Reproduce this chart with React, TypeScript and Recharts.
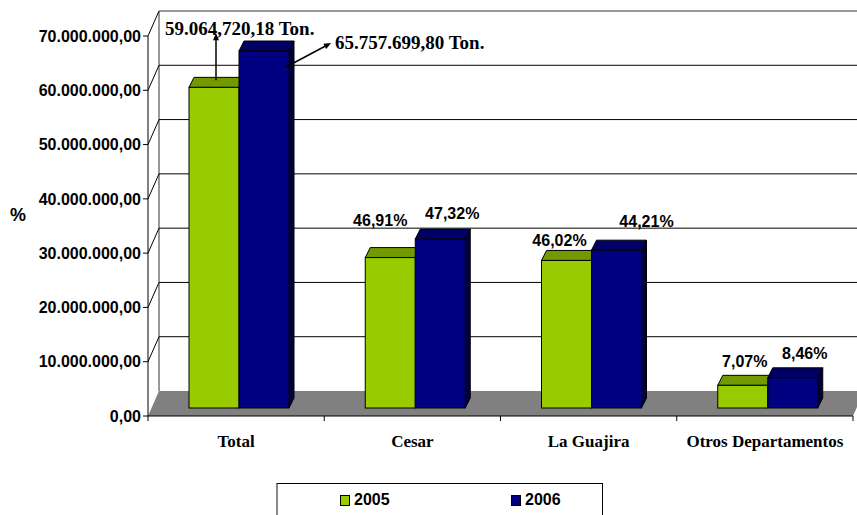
import React from 'react';
import { BarChart, Bar, XAxis, YAxis, CartesianGrid, Legend, LabelList } from 'recharts';

const CATEGORIES = ['Total', 'Cesar', 'La Guajira', 'Otros Departamentos'];
const SERIES = ['2005', '2006'];
const TON_2005 = [59064720.18, 27707260.2, 27181584.2, 4175875.7];
const TON_2006 = [65757699.8, 31116543.5, 29071479.1, 5563101.4];
const LABELS_2005 = ['59.064,720,18 Ton.', '46,91%', '46,02%', '7,07%'];
const LABELS_2006 = ['65.757.699,80 Ton.', '47,32%', '44,21%', '8,46%'];
const Y_TICKS = [0, 10000000, 20000000, 30000000, 40000000, 50000000, 60000000, 70000000];

// hand placed label nudges, from the centre of the bar's front top edge
const NUDGE_2005 = [[0, 0], [-10, -37], [-7, -20], [2, -24]];
const NUDGE_2006 = [[0, 0], [12, -26], [30, -29], [12, -25]];

const GREEN = { front: '#99CC00', top: '#739900', side: '#5c7a00' };
const NAVY = { front: '#000080', top: '#000066', side: '#00003d' };

const W = 857;
const H = 515;
const Y_AXIS_W = 148;
const TICK_SIZE = 5;
const TICK_MARGIN = 2;

// fake 3d offsets
const WALL_DX = 11;
const WALL_DY = -25;
const BAR_DX = 3;
const BAR_DY = -8;
const DEPTH_DX = 5;
const DEPTH_DY = -10;

const SANS = "'Liberation Sans', Arial, sans-serif";
const SERIF = "'Liberation Serif', 'Times New Roman', serif";

const data = CATEGORIES.map((name, i) => ({
  name,
  y2005: TON_2005[i],
  y2006: TON_2006[i],
  l2005: LABELS_2005[i],
  l2006: LABELS_2006[i],
}));

const fmt = (n: number) =>
  String(Math.round(n)).replace(/\B(?=(\d{3})+(?!\d))/g, '.') + ',00';

const bar3d = (c: { front: string; top: string; side: string }) => (props: any) => {
  const { x, y, width, height } = props;
  const fx = x + BAR_DX;
  const fy = y + BAR_DY;
  const top = `${fx},${fy} ${fx + width},${fy} ${fx + width + DEPTH_DX},${fy + DEPTH_DY} ${fx + DEPTH_DX},${fy + DEPTH_DY}`;
  const side = `${fx + width},${fy} ${fx + width + DEPTH_DX},${fy + DEPTH_DY} ${fx + width + DEPTH_DX},${fy + height + DEPTH_DY} ${fx + width},${fy + height}`;
  return (
    <g>
      <polygon points={top} fill={c.top} stroke='#000' strokeWidth={1} strokeLinejoin='round' />
      <polygon points={side} fill={c.side} stroke='#000' strokeWidth={1} strokeLinejoin='round' />
      <rect x={fx} y={fy} width={width} height={height} fill={c.front} stroke='#000' strokeWidth={1} />
    </g>
  );
};

const arrowHead = (x1: number, y1: number, x2: number, y2: number) => {
  const a = Math.atan2(y2 - y1, x2 - x1);
  const len = 7;
  const hw = 3;
  const bx = x2 - len * Math.cos(a);
  const by = y2 - len * Math.sin(a);
  const px = -Math.sin(a) * hw;
  const py = Math.cos(a) * hw;
  return `${x2},${y2} ${bx + px},${by + py} ${bx - px},${by - py}`;
};

const makeLabel = (nudges: number[][], series: number) => (p: any) => {
  const vb = p.viewBox ?? p;
  const { x, y, width } = vb;
  const { index, value } = p;
  const fx = x + BAR_DX;
  const fy = y + BAR_DY;
  if (index === 0) {
    if (series === 0) {
      const cx = fx + width / 2 + 2;
      const y1 = fy - 7;
      const y2 = fy - 54;
      return (
        <g>
          <line x1={cx} y1={y1} x2={cx} y2={y2 + 5} stroke='#000' strokeWidth={1.5} />
          <polygon points={arrowHead(cx, y1, cx, y2)} fill='#000' />
          <text x={cx - 51} y={fy - 52} fontFamily={SERIF} fontWeight='bold' fontSize={19} fill='#000'>
            {value}
          </text>
        </g>
      );
    }
    const x1 = fx + width - 3;
    const y1 = fy + 16;
    const x2 = fx + width + 42;
    const y2 = fy - 8;
    return (
      <g>
        <line x1={x1} y1={y1} x2={x2 - 5} y2={y2 + 2.7} stroke='#000' strokeWidth={1.5} />
        <polygon points={arrowHead(x1, y1, x2, y2)} fill='#000' />
        <text x={fx + width + 46} y={fy - 2} fontFamily={SERIF} fontWeight='bold' fontSize={19} fill='#000'>
          {value}
        </text>
      </g>
    );
  }
  const [nx, ny] = nudges[index];
  return (
    <text
      x={fx + width / 2 + nx}
      y={fy + ny}
      dy='0.36em'
      textAnchor='middle'
      fontFamily={SANS}
      fontWeight='bold'
      fontSize={16}
      fill='#000'
    >
      {value}
    </text>
  );
};

const gridLine = (p: any) => {
  const { x1, x2, y1, index } = p;
  const top = p.y ?? 36;
  const bottom = (p.y ?? 36) + (p.height ?? 380);
  const left = p.x ?? x1;
  const right = (p.x ?? x1) + (p.width ?? x2 - x1);
  const isBottom = Math.abs(y1 - bottom) < 0.5;
  const isTop = Math.abs(y1 - top) < 0.5;
  return (
    <g key={`grid-${index}`}>
      {index === 0 && (
        <g>
          <polygon
            points={`${left},${bottom} ${right},${bottom} ${right + WALL_DX},${bottom + WALL_DY} ${left + WALL_DX},${bottom + WALL_DY}`}
            fill='#808080'
          />
          <line
            x1={left + WALL_DX}
            y1={top + WALL_DY}
            x2={left + WALL_DX}
            y2={bottom + WALL_DY}
            stroke='#999'
            strokeWidth={2}
          />
        </g>
      )}
      {!isBottom && (
        <line
          x1={x1 + WALL_DX}
          y1={y1 + WALL_DY}
          x2={x2 + WALL_DX}
          y2={y1 + WALL_DY}
          stroke={isTop ? '#999' : '#000'}
          strokeWidth={isTop ? 2 : 1}
        />
      )}
    </g>
  );
};

const YTick = (p: any) => {
  const { x, y, payload } = p;
  const ax = x + TICK_SIZE + TICK_MARGIN;
  return (
    <g>
      {payload.value !== 0 && (
        <line x1={ax} y1={y} x2={ax + WALL_DX} y2={y + WALL_DY} stroke='#000' strokeWidth={1} />
      )}
      <text x={x} y={y} dy='0.36em' textAnchor='end' fontFamily={SANS} fontWeight='bold' fontSize={16} fill='#000'>
        {fmt(payload.value)}
      </text>
    </g>
  );
};

const XTick = (p: any) => {
  const { x, y, payload, index } = p;
  const plotW = W - Y_AXIS_W - 4;
  const band = plotW / CATEGORIES.length;
  return (
    <g>
      <line x1={x - band / 2} y1={y} x2={x - band / 2} y2={y + 5} stroke='#000' />
      {index === CATEGORIES.length - 1 && (
        <line x1={x + band / 2} y1={y} x2={x + band / 2} y2={y + 5} stroke='#000' />
      )}
      <text x={x} y={y + 31} textAnchor='middle' fontFamily={SERIF} fontWeight='bold' fontSize={17} fill='#000'>
        {payload.value}
      </text>
    </g>
  );
};

const renderLegend = (p: any) => {
  const items = p.payload ?? [];
  const lefts = [62, 233];
  return (
    <div
      style={{
        position: 'relative',
        boxSizing: 'border-box',
        width: 327,
        height: 32,
        borderTop: '1px solid #000',
        borderRight: '1px solid #000',
        borderLeft: '2px solid #888',
        background: '#fff',
        fontFamily: SANS,
        fontWeight: 'bold',
        fontSize: 16,
      }}
    >
      {items.map((it: any, i: number) => (
        <div key={it.value} style={{ position: 'absolute', left: lefts[i], top: 7, display: 'flex', alignItems: 'center' }}>
          <span
            style={{
              display: 'inline-block',
              width: 8,
              height: 9,
              background: it.color,
              border: '1px solid #000',
              marginRight: 4,
            }}
          />
          <span>{it.value}</span>
        </div>
      ))}
    </div>
  );
};

export default function App() {
  return (
    <div style={{ position: 'absolute', left: 0, top: 0, width: W, height: H, background: '#fff' }}>
      <BarChart
        width={W}
        height={H}
        data={data}
        margin={{ top: 36, right: 4, bottom: 0, left: 0 }}
        barSize={50}
        barGap={0}
      >
        <CartesianGrid vertical={false} horizontal={gridLine} />
        <XAxis
          dataKey='name'
          height={67}
          tickLine={false}
          tickSize={0}
          tickMargin={0}
          axisLine={{ stroke: '#000', strokeWidth: 1 }}
          tick={<XTick />}
          interval={0}
        />
        <YAxis
          width={Y_AXIS_W}
          domain={[0, 70000000]}
          ticks={Y_TICKS}
          tickSize={TICK_SIZE}
          tickMargin={TICK_MARGIN}
          axisLine={{ stroke: '#000', strokeWidth: 1 }}
          tickLine={{ stroke: '#000' }}
          tick={<YTick />}
          interval={0}
          label={{
            value: '%',
            content: (lp: any) => {
              const vb = lp.viewBox;
              return (
                <text
                  x={vb.x + 10}
                  y={vb.y + vb.height / 2 - 11}
                  dy='0.36em'
                  fontFamily={SANS}
                  fontWeight='bold'
                  fontSize={18}
                  fill='#000'
                >
                  %
                </text>
              );
            },
          }}
        />
        <Legend
          verticalAlign='bottom'
          height={32}
          width={327}
          wrapperStyle={{ left: 276, bottom: 0 }}
          content={renderLegend}
        />
        <Bar dataKey='y2005' name={SERIES[0]} fill={GREEN.front} shape={bar3d(GREEN)} isAnimationActive={false}>
          <LabelList dataKey='l2005' content={makeLabel(NUDGE_2005, 0)} />
        </Bar>
        <Bar dataKey='y2006' name={SERIES[1]} fill={NAVY.front} shape={bar3d(NAVY)} isAnimationActive={false}>
          <LabelList dataKey='l2006' content={makeLabel(NUDGE_2006, 1)} />
        </Bar>
      </BarChart>
    </div>
  );
}
